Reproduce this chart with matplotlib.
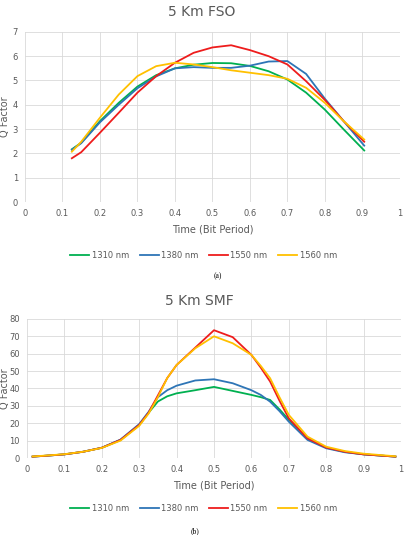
import matplotlib
matplotlib.use('Agg')
import matplotlib.pyplot as plt

font_size = 6
plt.rcParams.update({
    'font.family': 'DejaVu Sans',
    'font.size': font_size,
    'xtick.labelsize': font_size,
    'ytick.labelsize': font_size,
})

labels = ['1310 nm', '1380 nm', '1550 nm', '1560 nm']
colors = ['#00b050', '#2e75b6', '#ee1c1c', '#ffc000']
text_grey = '#595959'

# ---- (a) 5 Km FSO ----
fso_x = [0.125, 0.15, 0.2, 0.25, 0.3, 0.35, 0.4, 0.45, 0.5, 0.55, 0.6,
         0.65, 0.7, 0.75, 0.8, 0.85, 0.905]
fso_1310 = [2.17, 2.44, 3.33, 4.08, 4.75, 5.22, 5.5, 5.65, 5.72, 5.71, 5.6,
            5.38, 5.04, 4.5, 3.8, 2.99, 2.12]
fso_1380 = [2.15, 2.42, 3.28, 4.0, 4.68, 5.17, 5.5, 5.55, 5.52, 5.52, 5.61,
            5.78, 5.8, 5.27, 4.25, 3.33, 2.32]
fso_1550 = [1.8, 2.05, 2.85, 3.67, 4.5, 5.18, 5.73, 6.14, 6.36, 6.45, 6.25,
            6.0, 5.66, 4.97, 4.2, 3.33, 2.48]
fso_1560 = [2.07, 2.48, 3.47, 4.42, 5.18, 5.59, 5.73, 5.66, 5.55, 5.42, 5.32,
            5.22, 5.07, 4.7, 4.08, 3.33, 2.57]

# ---- (b) 5 Km SMF ----
smf_x = [0.015, 0.05, 0.1, 0.15, 0.2, 0.25, 0.3, 0.325, 0.35, 0.375, 0.4,
         0.45, 0.5, 0.55, 0.6, 0.625, 0.65, 0.675, 0.7, 0.75, 0.8, 0.85,
         0.9, 0.985]
smf_1310 = [0.8, 1.3, 2.1, 3.6, 5.9, 10.4, 19.0, 26.0, 32.5, 35.5, 37.2,
            39.0, 40.9, 38.6, 36.3, 35.0, 33.4, 28.0, 22.0, 11.3, 6.0, 3.5,
            2.1, 0.8]
smf_1380 = [0.8, 1.3, 2.1, 3.6, 5.9, 10.6, 19.5, 26.5, 35.0, 39.0, 41.6,
            44.6, 45.3, 43.0, 39.0, 36.3, 32.4, 27.0, 20.9, 10.4, 5.6, 3.3,
            2.1, 0.8]
smf_1550 = [0.8, 1.3, 2.1, 3.6, 5.9, 10.4, 19.0, 26.0, 36.0, 46.0, 53.5,
            63.5, 73.5, 69.5, 59.3, 52.0, 44.0, 33.0, 22.8, 11.3, 6.0, 3.6,
            2.1, 0.8]
smf_1560 = [0.9, 1.4, 2.2, 3.6, 5.8, 10.0, 18.5, 25.5, 35.0, 46.0, 53.5,
            63.1, 70.0, 66.0, 59.3, 53.0, 45.9, 35.0, 24.8, 12.3, 6.5, 4.0,
            2.5, 1.0]

fig = plt.figure(figsize=(4.07, 5.35), dpi=100)


def style_axes(ax, ymax, ystep):
    ax.set_xlim(0, 1)
    ax.set_ylim(0, ymax)
    ax.set_xticks([i / 10 for i in range(11)])
    ax.set_xticklabels(['0', '0.1', '0.2', '0.3', '0.4', '0.5', '0.6', '0.7',
                        '0.8', '0.9', '1'])
    ax.set_yticks(range(0, ymax + 1, ystep))
    for s in ax.spines.values():
        s.set_visible(False)
    ax.grid(True, color='#d9d9d9', linewidth=0.6)
    ax.set_axisbelow(True)
    ax.tick_params(length=0, colors=text_grey, pad=5)
    ax.set_xlabel('Time (Bit Period)', color=text_grey, fontsize=7, labelpad=5)


def add_legend(ax, ypos):
    fig.legend(*ax.get_legend_handles_labels(), loc='center',
               bbox_to_anchor=(0.5, ypos), ncol=4, frameon=False, fontsize=6,
               handlelength=2.3, columnspacing=1.3, handletextpad=0.25,
               labelcolor=text_grey)


ax1 = fig.add_axes([0.0614, 0.6224, 0.921, 0.318])
for ys, c, lab in zip([fso_1310, fso_1380, fso_1550, fso_1560], colors, labels):
    ax1.plot(fso_x, ys, color=c, lw=1.3, label=lab, solid_joinstyle='round')
style_axes(ax1, 7, 1)
fig.text(0.012, 0.781, 'Q Factor', rotation=90, ha='center', va='center',
         fontsize=7, color=text_grey)
fig.text(0.495, 0.977, '5 Km FSO', ha='center', va='center', fontsize=10,
         color=text_grey)
add_legend(ax1, 0.523)
fig.text(0.535, 0.483, '(a)', ha='center', va='center', fontsize=5.5,
         family='Liberation Serif')

ax2 = fig.add_axes([0.0663, 0.1439, 0.919, 0.26])
for ys, c, lab in zip([smf_1310, smf_1380, smf_1550, smf_1560], colors, labels):
    ax2.plot(smf_x, ys, color=c, lw=1.3, label=lab, solid_joinstyle='round')
style_axes(ax2, 80, 10)
fig.text(0.012, 0.274, 'Q Factor', rotation=90, ha='center', va='center',
         fontsize=7, color=text_grey)
fig.text(0.49, 0.437, '5 Km SMF', ha='center', va='center', fontsize=10,
         color=text_grey)
add_legend(ax2, 0.05)
fig.text(0.48, 0.008, '(b)', ha='center', va='center', fontsize=5.5,
         family='Liberation Serif')

fig.savefig('out.png', dpi=100)
